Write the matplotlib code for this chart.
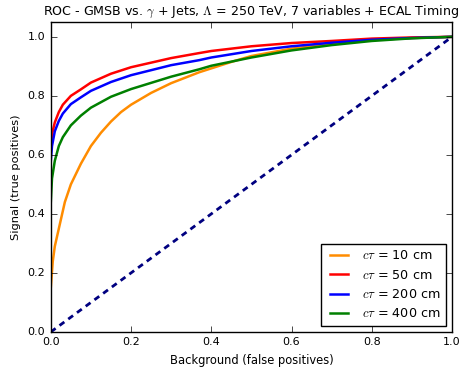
import matplotlib.pyplot as plt

plt.style.use("classic")

fpr_10 = [0.0, 0.005, 0.01, 0.02, 0.035, 0.05, 0.075, 0.1, 0.125, 0.15, 0.175, 0.2, 0.25, 0.3, 0.37, 0.45, 0.5, 0.6, 0.7, 0.8, 0.9, 1.0]
tpr_10 = [0.15, 0.24, 0.29, 0.35, 0.44, 0.5, 0.57, 0.63, 0.675, 0.713, 0.745, 0.77, 0.81, 0.843, 0.88, 0.915, 0.935, 0.96, 0.976, 0.99, 0.996, 1.0]

fpr_50 = [0.0, 0.003, 0.01, 0.02, 0.03, 0.05, 0.075, 0.1, 0.15, 0.2, 0.3, 0.37, 0.4, 0.5, 0.6, 0.7, 0.8, 0.9, 1.0]
tpr_50 = [0.62, 0.67, 0.71, 0.745, 0.77, 0.8, 0.822, 0.845, 0.875, 0.897, 0.928, 0.945, 0.952, 0.968, 0.979, 0.986, 0.994, 0.998, 1.0]

fpr_200 = [0.0, 0.003, 0.01, 0.02, 0.03, 0.05, 0.075, 0.1, 0.15, 0.2, 0.3, 0.37, 0.4, 0.5, 0.6, 0.7, 0.8, 0.9, 1.0]
tpr_200 = [0.58, 0.63, 0.68, 0.715, 0.74, 0.772, 0.795, 0.817, 0.847, 0.87, 0.904, 0.921, 0.93, 0.952, 0.968, 0.98, 0.99, 0.996, 1.0]

fpr_400 = [0.0, 0.003, 0.01, 0.02, 0.03, 0.05, 0.075, 0.1, 0.15, 0.2, 0.3, 0.37, 0.4, 0.5, 0.6, 0.7, 0.8, 0.9, 1.0]
tpr_400 = [0.44, 0.52, 0.58, 0.63, 0.66, 0.7, 0.733, 0.76, 0.797, 0.823, 0.865, 0.89, 0.902, 0.93, 0.954, 0.972, 0.986, 0.995, 1.0]

fig = plt.figure(figsize=(4.66, 3.68), dpi=100, facecolor="white")
ax = fig.add_axes([0.109, 0.098, 0.861, 0.842])

ax.plot(fpr_10, tpr_10, color="darkorange", lw=1.8, label=r"$c\tau$ = 10 cm")
ax.plot(fpr_50, tpr_50, color="red", lw=1.8, label=r"$c\tau$ = 50 cm")
ax.plot(fpr_200, tpr_200, color="blue", lw=1.8, label=r"$c\tau$ = 200 cm")
ax.plot(fpr_400, tpr_400, color="green", lw=1.8, label=r"$c\tau$ = 400 cm")
ax.plot([0, 1], [0, 1], color="navy", lw=2, linestyle=(0, (4.3, 3.5)))

ax.set_xlim(0.0, 1.0)
ax.set_ylim(0.0, 1.05)
ax.set_xlabel("Background (false positives)", fontsize=8.3)
ax.set_ylabel("Signal (true positives)", fontsize=8.2)
ax.set_title(r"ROC - GMSB vs. $\gamma$ + Jets, $\Lambda$ = 250 TeV, 7 variables + ECAL Timing", fontsize=9.1)
ax.tick_params(labelsize=8)
ax.legend(loc="lower right", fontsize=9.2)

fig.savefig("out.png", dpi=100, facecolor="white")
